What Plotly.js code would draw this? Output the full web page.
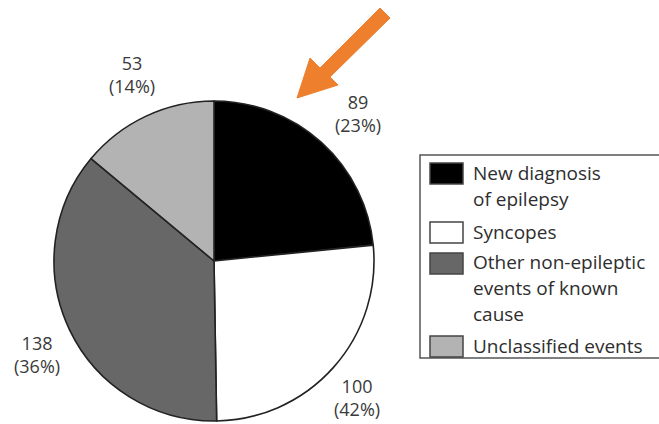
<!DOCTYPE html>
<html>
<head>
<meta charset="utf-8">
<script src="https://cdn.plot.ly/plotly-3.0.1.min.js"></script>
<style>html,body{margin:0;padding:0;background:#fff;}#chart{width:659px;height:424px;}</style>
</head>
<body>
<div id="chart"></div>
<script>
// Data
var categories = ["New diagnosis<br>of epilepsy", "Syncopes", "Other non-epileptic<br>events of known<br>cause", "Unclassified events"];
var counts = [89, 100, 138, 53];
var percentLabels = ["(23%)", "(42%)", "(36%)", "(14%)"];
var sliceColors = ["#000000", "#ffffff", "#676767", "#b3b3b3"];

var W = 659, H = 424;
function px(x){ return x / W; }
function py(y){ return 1 - y / H; }

var cx = 214, cy = 261, r = 160;

var trace = {
  type: "pie",
  values: counts,
  labels: categories,
  sort: false,
  direction: "clockwise",
  rotation: 0,
  textinfo: "none",
  hoverinfo: "label+value",
  marker: { colors: sliceColors, line: { color: "#222222", width: 1.6 } },
  domain: { x: [px(cx - r), px(cx + r)], y: [py(cy + r), py(cy - r)] },
  showlegend: false
};

// Value labels positions (layout only)
var labelPos = [[358, 113], [357, 397], [37, 354], [132, 75]];
var annotations = [];
for (var i = 0; i < counts.length; i++) {
  annotations.push({
    xref: "paper", yref: "paper",
    x: px(labelPos[i][0]), y: py(labelPos[i][1]),
    xanchor: "center", yanchor: "middle",
    text: counts[i] + "<br>" + percentLabels[i],
    showarrow: false,
    align: "center",
    font: { family: "'Open Sans', sans-serif", size: 18, color: "#3a3a3a" }
  });
}

// Legend (drawn manually)
var shapes = [];
shapes.push({ type: "rect", xref: "paper", yref: "paper",
  x0: px(420), x1: px(680), y0: py(358), y1: py(155),
  line: { color: "#555", width: 1.5 }, fillcolor: "rgba(0,0,0,0)" });
var swatchTops = [163, 222, 253, 336];
var textTops = [162, 221, 251, 335];
var lineH = 26;
for (var j = 0; j < categories.length; j++) {
  shapes.push({ type: "rect", xref: "paper", yref: "paper",
    x0: px(430), x1: px(463), y0: py(swatchTops[j] + 21), y1: py(swatchTops[j]),
    line: { color: "#444", width: 1.5 }, fillcolor: sliceColors[j] });
  var lines = categories[j].split("<br>");
  for (var k = 0; k < lines.length; k++) {
    annotations.push({
      xref: "paper", yref: "paper",
      x: px(471), y: py(textTops[j] + 11 + k * lineH),
      xanchor: "left", yanchor: "middle",
      text: lines[k], showarrow: false,
      font: { family: "'Open Sans', sans-serif", size: 19, color: "#2e2e2e" }
    });
  }
}

// Orange arrow
var arrowPts = [[380, 8], [390, 18], [330, 77], [338, 85], [297, 98], [310, 58], [320, 68]];
var path = "M " + arrowPts.map(function(p){ return px(p[0]) + "," + py(p[1]); }).join(" L ") + " Z";
shapes.push({ type: "path", xref: "paper", yref: "paper", path: path,
  fillcolor: "#ee7f2d", line: { color: "#ee7f2d", width: 1 } });

var layout = {
  width: W, height: H,
  margin: { l: 0, r: 0, t: 0, b: 0 },
  paper_bgcolor: "#ffffff",
  plot_bgcolor: "#ffffff",
  annotations: annotations,
  shapes: shapes,
  showlegend: false
};

Plotly.newPlot("chart", [trace], layout, { displayModeBar: false, staticPlot: true });
</script>
</body>
</html>
